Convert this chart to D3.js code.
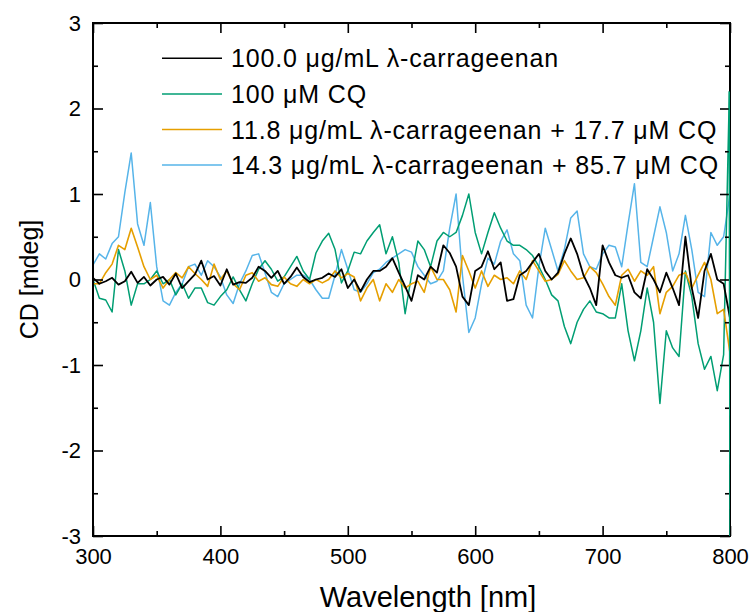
<!DOCTYPE html>
<html>
<head>
<meta charset="utf-8">
<script src="https://cdn.jsdelivr.net/npm/d3@7"></script>
<style>
  html, body { margin: 0; padding: 0; background: #fff; }
  svg { display: block; font-family: Arial, "Liberation Sans", sans-serif; }
</style>
</head>
<body>
<svg id="chart" width="751" height="612"></svg>
<script>
// CD spectra, 300–800 nm sampled every 5 nm (values in mdeg)
const wavelength = d3.range(300, 801, 5);

// 100.0 µg/mL λ-carrageenan
const carrageenan = [
  0.02, -0.05, -0.02, 0.02, -0.06, -0.02, 0.09, -0.04, 0.03, -0.07,
  0.00, 0.03, -0.06, 0.07, -0.10, -0.02, 0.06, 0.22, 0.00, 0.04,
  -0.07, 0.12, -0.06, -0.03, -0.04, 0.02, 0.15, 0.10, 0.02, 0.10,
  -0.05, 0.03, 0.14, 0.03, -0.03, 0.00, 0.02, 0.07, 0.03, 0.12,
  -0.10, 0.00, -0.14, 0.00, 0.10, 0.10, 0.15, 0.25, 0.08, -0.08,
  -0.25, 0.05, 0.00, 0.15, 0.08, 0.40, 0.31, 0.15, -0.20, -0.30,
  0.10, 0.15, 0.33, 0.12, 0.20, -0.25, -0.23, 0.05, 0.10, 0.20,
  0.30, 0.10, 0.00, 0.08, 0.30, 0.48, 0.30, 0.05, -0.10, -0.30,
  0.40, 0.20, 0.05, 0.02, 0.05, -0.15, -0.22, 0.12, 0.00, -0.15,
  0.08, -0.10, -0.30, 0.50, -0.10, -0.45, 0.10, 0.30, 0.00, -0.05,
  -0.45
];

// 100 µM CQ
const cq = [
  0.00, -0.22, -0.24, -0.38, 0.35, 0.10, -0.30, -0.05, -0.05, 0.00,
  0.10, -0.05, 0.00, -0.18, -0.05, -0.22, -0.10, -0.10, -0.27, -0.30,
  -0.20, -0.12, 0.03, -0.12, -0.25, -0.05, 0.12, 0.22, 0.12, -0.02,
  0.03, 0.15, 0.27, 0.10, 0.00, 0.31, 0.45, 0.54, 0.35, -0.04,
  0.10, 0.32, 0.30, 0.45, 0.55, 0.64, 0.30, 0.50, 0.20, -0.40,
  0.05, 0.45, 0.35, 0.15, 0.45, 0.55, 0.50, 0.55, 0.75, 1.00,
  0.55, 0.30, 0.55, 0.78, 0.60, 0.45, 0.40, 0.40, 0.35, 0.28,
  0.15, 0.00, -0.18, -0.25, -0.55, -0.75, -0.50, -0.35, -0.25, -0.38,
  -0.40, -0.45, -0.45, -0.05, -0.60, -0.95, -0.60, -0.10, -0.50, -1.45,
  -0.60, -0.80, -0.90, 0.10, -0.20, -0.75, -1.05, -0.90, -1.30, -0.88,
  -3.50
];
// detector spike of the CQ trace just before the 800 nm end point
const cqSpikeWavelength = 799.5;
const cqSpikeValue = 2.2;

// 11.8 µg/mL λ-carrageenan + 17.7 µM CQ
const mixLow = [
  -0.05, -0.05, 0.08, 0.18, 0.40, 0.35, 0.60, 0.38, 0.15, 0.00,
  0.05, -0.10, 0.00, 0.08, 0.02, 0.15, 0.07, 0.00, -0.08, 0.18,
  0.00, 0.10, -0.05, -0.12, 0.05, 0.08, -0.02, 0.02, -0.06, -0.08,
  0.03, -0.05, -0.08, 0.00, -0.05, 0.00, -0.04, 0.00, 0.10, 0.02,
  0.07, 0.03, -0.25, -0.10, 0.00, -0.25, -0.05, -0.15, 0.00, -0.10,
  -0.05, -0.02, -0.15, 0.15, 0.00, 0.00, -0.12, -0.38, 0.28, 0.10,
  -0.10, 0.10, -0.08, 0.05, 0.00, 0.02, -0.05, 0.10, 0.00, 0.22,
  0.10, -0.02, 0.00, 0.06, 0.22, 0.10, 0.00, 0.02, 0.15, 0.08,
  -0.05, -0.20, -0.30, 0.05, 0.12, -0.02, 0.10, 0.05, 0.15, -0.40,
  -0.15, -0.08, 0.05, 0.08, -0.10, 0.05, 0.20, 0.00, -0.40, -0.35,
  -0.86
];

// 14.3 µg/mL λ-carrageenan + 85.7 µM CQ
const mixHigh = [
  0.17, 0.30, 0.24, 0.42, 0.50, 1.02, 1.48, 0.65, 0.40, 0.90,
  0.15, -0.25, -0.30, -0.15, -0.05, 0.15, 0.18, 0.05, 0.22, 0.15,
  0.03, -0.18, -0.28, -0.05, 0.10, 0.28, 0.30, 0.08, -0.15, -0.20,
  -0.05, 0.00, 0.05, 0.05, 0.00, -0.12, -0.22, -0.22, 0.05, 0.35,
  0.12, -0.12, -0.15, -0.05, 0.08, 0.12, 0.20, 0.25, 0.30, 0.35,
  0.32, 0.15, 0.05, -0.05, -0.02, 0.10, 0.60, 1.00, 0.05, -0.62,
  -0.45, -0.05, 0.25, 0.18, 0.45, 0.58, 0.30, 0.22, -0.30, -0.45,
  0.15, 0.60, 0.35, 0.10, 0.35, 0.72, 0.80, 0.30, 0.15, 0.12,
  0.30, 0.40, 0.38, 0.15, 0.65, 1.12, 0.20, 0.15, 0.50, 0.85,
  0.55, 0.10, 0.30, 0.75, 0.35, -0.15, -0.20, 0.55, 0.40, 0.50,
  1.00
];

const legendLabels = [
  "100.0 \u03BCg/mL \u03BB-carrageenan",
  "100 \u03BCM CQ",
  "11.8 \u03BCg/mL \u03BB-carrageenan + 17.7 \u03BCM CQ",
  "14.3 \u03BCg/mL \u03BB-carrageenan + 85.7 \u03BCM CQ"
];
const seriesColors = ["#000000", "#009E73", "#E69F00", "#56B4E9"];

const xMajor = d3.range(300, 801, 100);
const xMinor = d3.range(350, 800, 100);
const yMajor = d3.range(-3, 4, 1);
const yMinor = d3.range(-2.5, 3, 1);

// ---- layout ----
const svg = d3.select("#chart");
const plotLeft = 93, plotRight = 730, plotTop = 23, plotBottom = 536;
const x = d3.scaleLinear().domain([300, 800]).range([plotLeft, plotRight]);
const y = d3.scaleLinear().domain([-3, 3]).range([plotBottom, plotTop]);

const toPoints = vals => vals.map((v, i) => [wavelength[i], v]);
const cqPoints = toPoints(cq);
cqPoints.splice(cqPoints.length - 1, 0, [cqSpikeWavelength, cqSpikeValue]);

const series = [
  { pts: toPoints(mixHigh), color: seriesColors[3], width: 1.5 },
  { pts: cqPoints, color: seriesColors[1], width: 1.5 },
  { pts: toPoints(mixLow), color: seriesColors[2], width: 1.6 },
  { pts: toPoints(carrageenan), color: seriesColors[0], width: 1.8 }
];

svg.append("defs").append("clipPath").attr("id", "plotClip")
  .append("rect").attr("x", plotLeft).attr("y", plotTop)
  .attr("width", plotRight - plotLeft).attr("height", plotBottom - plotTop);

const line = d3.line().x(d => x(d[0])).y(d => y(d[1]));

svg.append("g").attr("clip-path", "url(#plotClip)")
  .selectAll("path").data(series).join("path")
  .attr("d", d => line(d.pts))
  .attr("fill", "none")
  .attr("stroke", d => d.color)
  .attr("stroke-width", d => d.width)
  .attr("stroke-linejoin", "round");

// ---- axes (ticks point inward on all four sides) ----
const fmt = d => String(d);
function styleAxis(g) {
  g.select(".domain").remove();
  g.selectAll(".tick line").attr("stroke", "#000").attr("stroke-width", 1.6);
  g.selectAll(".tick text").attr("fill", "#000")
    .style("font-size", "22px").style("font-family", "Arial, 'Liberation Sans', sans-serif");
}

svg.append("g").attr("transform", `translate(0,${plotBottom})`)
  .call(d3.axisBottom(x).tickValues(xMajor).tickFormat(fmt).tickSize(-10).tickPadding(12))
  .call(styleAxis);
svg.append("g").attr("transform", `translate(0,${plotBottom})`)
  .call(d3.axisBottom(x).tickValues(xMinor).tickFormat("").tickSize(-5))
  .call(styleAxis);
svg.append("g").attr("transform", `translate(0,${plotTop})`)
  .call(d3.axisTop(x).tickValues(xMajor).tickFormat("").tickSize(-10))
  .call(styleAxis);
svg.append("g").attr("transform", `translate(0,${plotTop})`)
  .call(d3.axisTop(x).tickValues(xMinor).tickFormat("").tickSize(-5))
  .call(styleAxis);

svg.append("g").attr("transform", `translate(${plotLeft},0)`)
  .call(d3.axisLeft(y).tickValues(yMajor).tickFormat(fmt).tickSize(-10).tickPadding(12))
  .call(styleAxis);
svg.append("g").attr("transform", `translate(${plotLeft},0)`)
  .call(d3.axisLeft(y).tickValues(yMinor).tickFormat("").tickSize(-5))
  .call(styleAxis);
svg.append("g").attr("transform", `translate(${plotRight},0)`)
  .call(d3.axisRight(y).tickValues(yMajor).tickFormat("").tickSize(-10))
  .call(styleAxis);
svg.append("g").attr("transform", `translate(${plotRight},0)`)
  .call(d3.axisRight(y).tickValues(yMinor).tickFormat("").tickSize(-5))
  .call(styleAxis);

// frame
svg.append("rect")
  .attr("x", plotLeft).attr("y", plotTop)
  .attr("width", plotRight - plotLeft).attr("height", plotBottom - plotTop)
  .attr("fill", "none").attr("stroke", "#000").attr("stroke-width", 2);

// the CQ edge spike sits on the 800 nm border, so draw it above the frame
svg.append("path")
  .attr("d", line(cqPoints.slice(-2)))
  .attr("clip-path", "url(#plotClip)")
  .attr("fill", "none").attr("stroke", seriesColors[1]).attr("stroke-width", 1.5);

// axis titles
svg.append("text")
  .attr("x", 428).attr("y", 607)
  .attr("text-anchor", "middle")
  .style("font-size", "29px")
  .text("Wavelength [nm]");
svg.append("text")
  .attr("transform", `translate(38,${(plotTop + plotBottom) / 2}) rotate(-90)`)
  .attr("text-anchor", "middle")
  .style("font-size", "25px")
  .text("CD [mdeg]");

// legend
const legend = svg.append("g");
const legendTop = 58.3, legendStep = 35.6;
legendLabels.forEach((label, i) => {
  const ly = legendTop + i * legendStep;
  legend.append("line")
    .attr("x1", 162).attr("x2", 222).attr("y1", ly).attr("y2", ly)
    .attr("stroke", seriesColors[i]).attr("stroke-width", 1.5);
  legend.append("text")
    .attr("x", 231).attr("y", ly + 9)
    .style("font-size", "25px")
    .style("letter-spacing", "0.85px")
    .text(label);
});
</script>
</body>
</html>
